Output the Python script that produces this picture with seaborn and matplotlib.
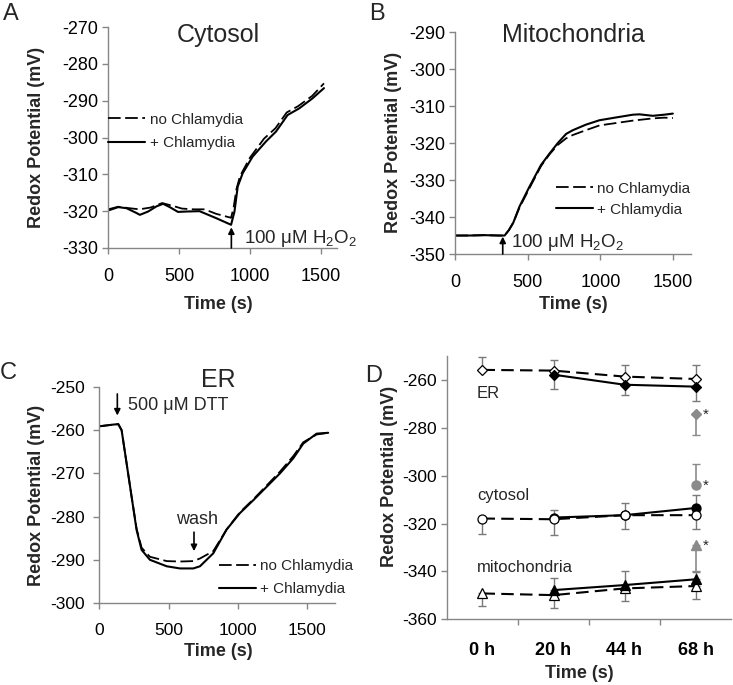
import numpy as np
import pandas as pd
import matplotlib
matplotlib.use("Agg")
import matplotlib.pyplot as plt
import seaborn as sns

# =============================================
# data
# =============================================
# A: cytosol
cyto_t_no = [0, 70, 150, 220, 300, 380, 450, 520, 600, 680, 760, 867, 885, 905, 930,
             1000, 1100, 1180, 1260, 1340, 1440, 1523]
cyto_no = [-319.5, -318.8, -319.2, -319.5, -319.0, -317.8, -318.5, -319.3, -319.5, -319.5,
           -320.7, -321.8, -319.0, -314.0, -310.5, -305.5, -300.3, -297.5, -293.2, -291.5,
           -288.7, -285.3]
cyto_t_plus = [0, 70, 129, 199, 223, 281, 340, 387, 434, 492, 551, 644, 762, 867, 891, 914,
               949, 1019, 1113, 1184, 1266, 1348, 1441, 1523]
cyto_plus = [-319.8, -318.9, -319.2, -320.5, -321.0, -320.1, -318.7, -318.0, -318.9, -320.2,
             -320.1, -320.0, -321.9, -323.7, -320.1, -313.3, -309.7, -305.2, -301.1, -298.4,
             -293.9, -292.1, -289.4, -286.6]

# B: mitochondria
mito_t = [0, 100, 200, 300, 340, 370, 400, 442, 511, 591, 650, 706, 764, 810, 900, 994,
          1100, 1224, 1270, 1362, 1440, 1500]
mito_no = [-345, -345, -344.9, -345, -345, -343.5, -341.5, -337.5, -332.2, -326.2, -323.0,
           -320.5, -318.7, -317.8, -316.5, -315.2, -314.6, -313.9, -313.7, -313.3, -313.1,
           -313.2]
mito_plus = [-345, -345, -344.9, -345, -345, -343.5, -341.5, -337.2, -331.8, -325.9, -322.8,
             -320.0, -317.5, -316.5, -315.0, -313.8, -313.1, -312.3, -312.2, -312.6, -312.3,
             -312.0]

# C: ER
er_t = [0, 101, 137, 161, 197, 233, 269, 305, 365, 486, 582, 678, 726, 822, 918, 1014,
        1111, 1207, 1303, 1399, 1471, 1567, 1651]
er_no = [-259.1, -258.7, -258.6, -260.0, -267.7, -275.4, -282.8, -287.2, -289.3, -290.3,
         -290.4, -290.3, -289.7, -288.0, -283.0, -279.0, -276.0, -272.8, -269.6, -266.0,
         -262.8, -261.0, -260.6]
er_plus = [-259.1, -258.7, -258.6, -260.0, -267.7, -275.4, -283.1, -287.7, -290.0, -291.5,
           -292.0, -292.0, -291.5, -288.5, -283.0, -279.2, -276.2, -273.1, -270.0, -266.5,
           -263.1, -260.8, -260.6]

# D: time course (no Chlamydia from 0 h, + Chlamydia from 20 h)
hours = ["0 h", "20 h", "44 h", "68 h"]
d_er_no = [-255.8, -256.1, -258.6, -259.6]
d_er_no_err = [5.2, 4.4, 4.7, 5.7]          # upper bars
d_er_inf = [-257.8, -262.0, -262.8]
d_er_inf_err = [5.8, 4.1, 6.1]              # lower bars
d_cyto_no = [-317.9, -318.2, -316.5, -316.5]
d_cyto_no_err = [6.3, 6.7, 5.6, 5.9]        # lower bars
d_cyto_inf = [-317.5, -316.5, -313.5]
d_cyto_inf_err = [3.0, 5.1, 5.6]            # upper bars
d_mito_no = [-349.2, -349.9, -347.1, -346.1]
d_mito_no_err = [5.3, 5.3, 5.1, 5.4]        # lower bars
d_mito_inf = [-347.8, -345.7, -343.3]
d_mito_inf_err = [5.1, 5.8, 3.1]            # upper bars
# grey points at 68 h (marked *)
grey_vals = [-274.2, -304.0, -328.8]
grey_err_lo = [8.6, 0.0, 11.0]
grey_err_hi = [0.0, 8.7, 0.0]

# =============================================
# style
# =============================================
sns.set_theme(style="white")
plt.rcParams['font.family'] = ['Liberation Sans', 'DejaVu Sans']
plt.rcParams['mathtext.fontset'] = 'custom'
plt.rcParams['mathtext.rm'] = 'Liberation Sans'
plt.rcParams['axes.unicode_minus'] = False

W, H = 733, 685
AXIS_GREY = '#868686'
DASH = (0, (7, 2.5))
H2O2 = '100 \u03bcM H$_\\mathregular{2}$O$_\\mathregular{2}$'


def px_box(left, right, top, bottom):
    return [left / W, 1 - bottom / H, (right - left) / W, (bottom - top) / H]


def px(x, y):
    return x / W, 1 - y / H


def style_axes(ax, labelsize):
    sns.despine(ax=ax)
    for s in ['left', 'bottom']:
        ax.spines[s].set_color(AXIS_GREY)
        ax.spines[s].set_linewidth(1)
    ax.tick_params(axis='both', direction='out', color=AXIS_GREY, length=4.5, width=1,
                   labelsize=labelsize, labelcolor='black', left=True, bottom=True)
    ax.tick_params(axis='y', pad=3)
    ax.tick_params(axis='x', pad=10)
    ax.grid(False)


def trace_panel(ax, t_no, y_no, t_plus, y_plus):
    sns.lineplot(x=t_no, y=y_no, ax=ax, color='black', lw=1.3, linestyle=DASH,
                 label='no Chlamydia', sort=False)
    sns.lineplot(x=t_plus, y=y_plus, ax=ax, color='black', lw=1.5,
                 label='+ Chlamydia', sort=False)


def add_legend(ax, x, y, spacing):
    ax.legend(loc='upper left', bbox_to_anchor=(x, y), frameon=False, fontsize=11,
              handlelength=2.4, handletextpad=0.3, labelspacing=spacing, borderpad=0,
              borderaxespad=0)


def arrow(ax, x, y_from, y_to):
    ax.annotate('', xy=(x, y_to), xytext=(x, y_from),
                arrowprops=dict(arrowstyle='-|>', color='black', lw=1.2, mutation_scale=9,
                                shrinkA=0, shrinkB=0), annotation_clip=False)


fig = plt.figure(figsize=(W / 100, H / 100), dpi=100)

# =============================================
# A: cytosol
# =============================================
axA = fig.add_axes(px_box(108.3, 337, 27, 248))
trace_panel(axA, cyto_t_no, cyto_no, cyto_t_plus, cyto_plus)
axA.set_xlim(0, 1615)
axA.set_ylim(-330, -270)
axA.set_xticks([0, 500, 1000, 1500])
axA.set_yticks(np.arange(-330, -269, 10))
style_axes(axA, 13)
add_legend(axA, 0.0, 0.612, 0.6)
arrow(axA, 869, -330, -324.4)
axA.text(955, -327.3, H2O2, fontsize=13.5, va='center', ha='left')
axA.set_xlabel('')
axA.set_ylabel('')

# =============================================
# B: mitochondria
# =============================================
axB = fig.add_axes(px_box(455.3, 691, 32.3, 254))
trace_panel(axB, mito_t, mito_no, mito_t, mito_plus)
axB.set_xlim(0, 1625)
axB.set_ylim(-350, -290)
axB.set_xticks([0, 500, 1000, 1500])
axB.set_yticks(np.arange(-350, -289, 10))
style_axes(axB, 13)
add_legend(axB, 0.427, 0.326, 0.45)
arrow(axB, 327, -350, -345.3)
axB.text(385, -346.8, H2O2, fontsize=13.5, va='center', ha='left')
axB.set_xlabel('')
axB.set_ylabel('')

# =============================================
# C: ER
# =============================================
axC = fig.add_axes(px_box(99.3, 335, 387, 603))
trace_panel(axC, er_t, er_no, er_t, er_plus)
axC.set_xlim(0, 1700)
axC.set_ylim(-300, -250)
axC.set_xticks([0, 500, 1000, 1500])
axC.set_yticks(np.arange(-300, -249, 10))
style_axes(axC, 12.5)
axC.tick_params(axis='y', pad=6)
add_legend(axC, 0.508, 0.2015, 0.55)
arrow(axC, 130, -251.6, -256.6)
axC.text(205, -254.3, '500 \u03bcM DTT', fontsize=13, va='center', ha='left')
arrow(axC, 683, -283.6, -288.0)
axC.text(702, -280.6, 'wash', fontsize=13, va='center', ha='center')
axC.set_xlabel('')
axC.set_ylabel('')

# =============================================
# D: time course
# =============================================
axD = fig.add_axes(px_box(447, 731, 356, 619.3))
pos = np.arange(len(hours))
grey_pt = '#8a8a8a'
err_kw = dict(fmt='none', ecolor='#7a7a7a', elinewidth=1, capsize=3, capthick=1, zorder=2)

groups = [
    # no values, no err, no err upward?, inf values, inf err, inf err upward?, marker, size, inf on top
    (d_er_no, d_er_no_err, True, d_er_inf, d_er_inf_err, False, 'D', 5.5, True),
    (d_cyto_no, d_cyto_no_err, False, d_cyto_inf, d_cyto_inf_err, True, 'o', 6.5, False),
    (d_mito_no, d_mito_no_err, False, d_mito_inf, d_mito_inf_err, True, '^', 7, True),
]
for no_v, no_e, no_up, inf_v, inf_e, inf_up, mk, ms, inf_top in groups:
    z_no, z_inf = (4, 5) if inf_top else (5, 4)
    no_e = np.array(no_e)
    inf_e = np.array(inf_e)
    zeros_no = np.zeros_like(no_e)
    zeros_inf = np.zeros_like(inf_e)
    axD.errorbar(pos, no_v, yerr=[zeros_no, no_e] if no_up else [no_e, zeros_no], **err_kw)
    axD.errorbar(pos[1:], inf_v, yerr=[zeros_inf, inf_e] if inf_up else [inf_e, zeros_inf],
                 **err_kw)
    sns.lineplot(x=pos, y=no_v, ax=axD, color='black', lw=1.5, linestyle=(0, (6, 3)),
                 marker=mk, markersize=ms, markerfacecolor='white', markeredgecolor='black',
                 markeredgewidth=0.9, zorder=z_no)
    sns.lineplot(x=pos[1:], y=inf_v, ax=axD, color='black', lw=1.5,
                 marker=mk, markersize=ms, markerfacecolor='black', markeredgecolor='black',
                 markeredgewidth=0.9, zorder=z_inf)

# grey starred points at 68 h
grey_marks = ['D', 'o', '^']
grey_sizes = [5.5, 6.5, 7]
grey_x = np.full(len(grey_vals), pos[-1])
axD.errorbar(grey_x, grey_vals, yerr=[grey_err_lo, grey_err_hi], fmt='none',
             ecolor=grey_pt, elinewidth=1.2, capsize=3, capthick=1, zorder=2)
for xv, yv, mk, ms in zip(grey_x, grey_vals, grey_marks, grey_sizes):
    axD.plot(xv, yv, marker=mk, markersize=ms, color=grey_pt, markeredgecolor=grey_pt,
             linestyle='none', zorder=6)
    axD.text(xv + 0.1, yv - 0.3, '*', fontsize=11, ha='left', va='center')

axD.text(-0.08, -265.7, 'ER', fontsize=12, va='center', ha='left')
axD.text(-0.08, -308.2, 'cytosol', fontsize=12, va='center', ha='left')
axD.text(-0.08, -338.3, 'mitochondria', fontsize=12, va='center', ha='left')

axD.set_xlim(-0.5, 3.5)
axD.set_ylim(-360, -250)
axD.set_yticks(np.arange(-360, -259, 20))
axD.set_xticks(pos)
axD.set_xticklabels(hours, fontweight='bold', fontsize=13)
axD.set_xticks([0.5, 1.5, 2.5], minor=True)
style_axes(axD, 12.5)
axD.tick_params(axis='x', which='major', length=0, pad=16, labelsize=13)
axD.tick_params(axis='x', which='minor', length=4.5, color=AXIS_GREY, direction='out',
                bottom=True)
axD.set_xlabel('')
axD.set_ylabel('')

# =============================================
# titles, panel letters, axis labels
# =============================================
fig.text(*px(218, 35), 'Cytosol', fontsize=18, ha='center', va='center')
fig.text(*px(573, 35), 'Mitochondria', fontsize=18, ha='center', va='center')
fig.text(*px(218, 380), 'ER', fontsize=18, ha='center', va='center')

for letter, (lx, ly) in zip('ABCD', [(11, 14), (377, 14), (8, 373), (374, 376)]):
    fig.text(*px(lx, ly), letter, fontsize=17, ha='center', va='center')

lab_kw = dict(fontsize=13, fontweight='bold', ha='center', va='center')
fig.text(*px(37, 137), 'Redox Potential (mV)', rotation=90, **lab_kw)
fig.text(*px(394, 142), 'Redox Potential (mV)', rotation=90, **lab_kw)
fig.text(*px(37, 495), 'Redox Potential (mV)', rotation=90, **lab_kw)
fig.text(*px(389, 476), 'Redox Potential (mV)', rotation=90, **lab_kw)
fig.text(*px(218, 304), 'Time (s)', **lab_kw)
fig.text(*px(573, 304), 'Time (s)', **lab_kw)
fig.text(*px(218, 652), 'Time (s)', **lab_kw)
fig.text(*px(579, 673), 'Time (s)', **lab_kw)

fig.savefig('out.png', dpi=100)
plt.close(fig)
